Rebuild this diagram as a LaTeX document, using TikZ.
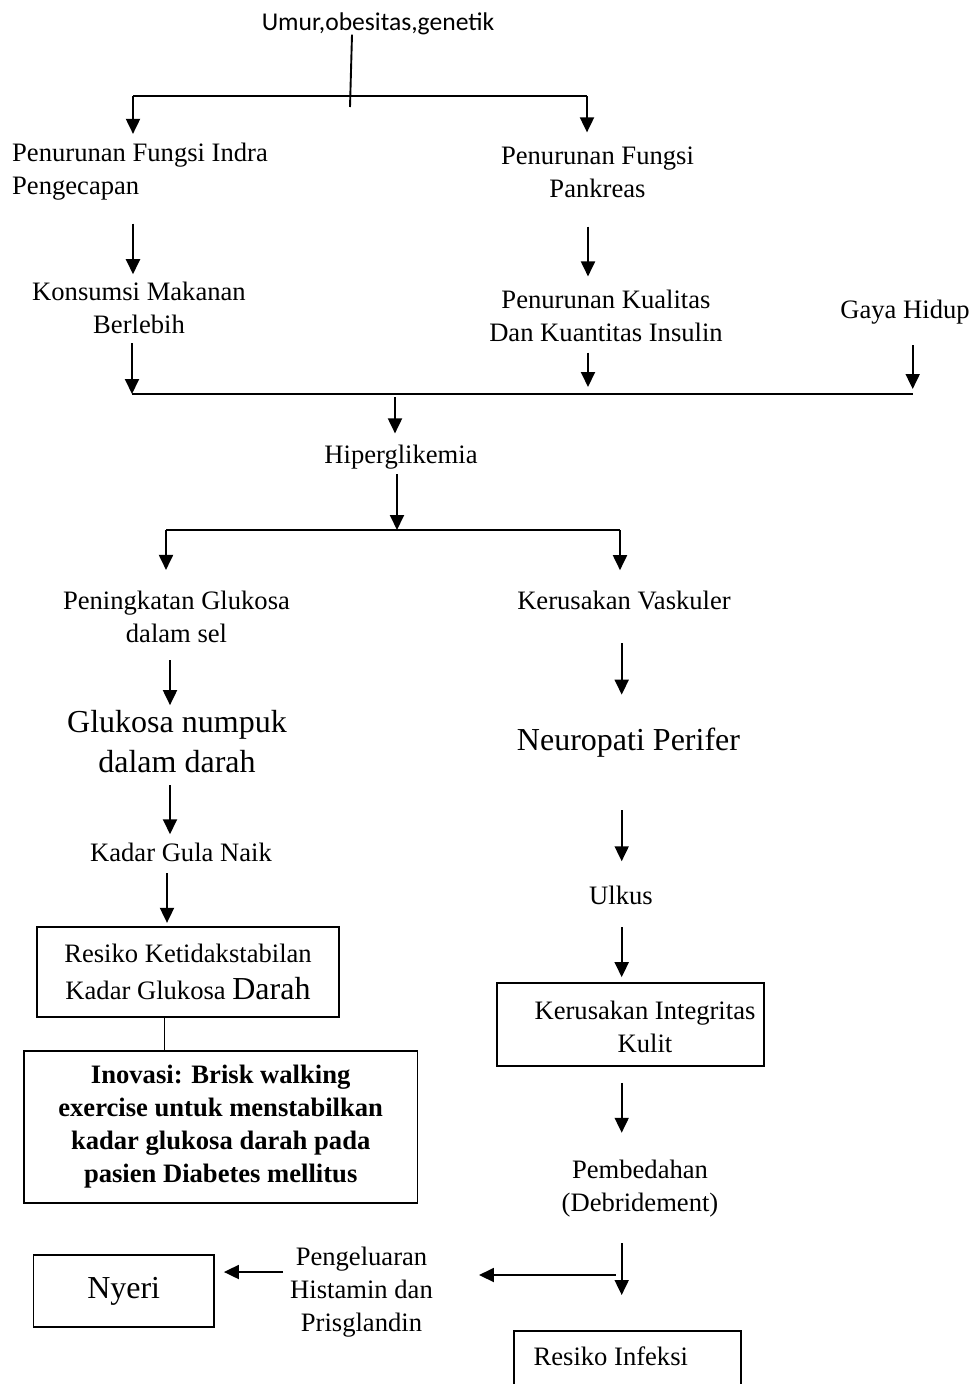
\documentclass[tikz,border=0pt]{standalone}
\usepackage{fontspec}
\setmainfont{Liberation Serif}
\newfontfamily\umurfont{Carlito}
\usetikzlibrary{arrows.meta}

\begin{document}
\begin{tikzpicture}[
    x=1pt, y=-1pt,
    txt/.style={inner sep=0pt, align=center, font=\fontsize{26.6}{33}\selectfont},
    big/.style={inner sep=0pt, align=center, font=\fontsize{32}{40}\selectfont},
    box/.style={draw, line width=1.7pt, inner sep=0pt},
    ln/.style={line width=1.9pt},
    arr/.style={ln, -{Triangle[length=15pt,width=14pt]}},
  ]
  \useasboundingbox (0,0) rectangle (973,1384);

  \node[anchor=base, inner sep=0pt, font=\umurfont\fontsize{25.6}{30}\selectfont]
    (umur) at (378,30) {Umur,obesitas,genetik};

  \node[txt, anchor=west, align=left] (pfi) at (12,171.7) {Penurunan Fungsi Indra\\Pengecapan};
  \node[txt] (pfp) at (597.5,172) {Penurunan Fungsi\\Pankreas};
  \node[txt] (kmb) at (139,308.3) {Konsumsi Makanan\\Berlebih};
  \node[txt] (pkk) at (606,315.5) {Penurunan Kualitas\\Dan Kuantitas Insulin};
  \node[txt] (gaya) at (905,312.1) {Gaya Hidup};
  \node[txt] (hiper) at (401,456.7) {Hiperglikemia};
  \node[txt] (pgs) at (176.5,617) {Peningkatan Glukosa\\dalam sel};
  \node[txt] (kv) at (624,600.8) {Kerusakan Vaskuler};
  \node[big] (gnd) at (177,741.6) {Glukosa numpuk\\dalam darah};
  \node[big] (np) at (628.5,742.5) {Neuropati Perifer};
  \node[txt] (kgn) at (181,852.8) {Kadar Gula Naik};
  \node[txt] (ulkus) at (621,895.8) {Ulkus};
  \node[box, txt, minimum width=302.6pt, minimum height=90pt] (rkkg) at (188,971.7)
    {Resiko Ketidakstabilan\\[4.3pt]Kadar Glukosa {\fontsize{32}{40}\selectfont Darah}};
  \node[box, txt, font=\fontsize{26.6}{33}\selectfont\bfseries,
        minimum width=393.3pt, minimum height=152pt] (inov) at (220.7,1126.7)
    {Inovasi: Brisk walking\\exercise untuk menstabilkan\\kadar glukosa darah pada\\pasien Diabetes mellitus};
  \node[box, minimum width=267pt, minimum height=83pt] (kik) at (630.5,1024.5) {};
  \node[txt] (kikt) at (645,1026.7) {Kerusakan Integritas\\Kulit};
  \node[txt] (pemb) at (640,1188.5) {Pembedahan\\(Debridement)};
  \node[txt] (peng) at (361.5,1292.5) {Pengeluaran\\Histamin dan\\Prisglandin};
  \node[box, big, minimum width=180.7pt, minimum height=71.7pt] (nyeri) at (123.7,1291) {Nyeri};
  \node[box, anchor=north west, minimum width=226.7pt, minimum height=100pt] (rinf) at (513.3,1330) {};
  \node[txt] (rinft) at (610.8,1355.8) {Resiko Infeksi};

  \coordinate (tl) at (133,96);
  \coordinate (tr) at (587,96);
  \coordinate (tm) at (350,107);
  \coordinate (bl) at (132,394);
  \coordinate (bm) at (395,394);
  \coordinate (bp) at (588,394);
  \coordinate (br) at (912.7,394);
  \coordinate (hl) at (166,530);
  \coordinate (hm) at (397,530);
  \coordinate (hr) at (620,530);
  \coordinate (cl) at (170,0);
  \coordinate (ck) at (167,0);
  \coordinate (cs) at (164.5,0);
  \coordinate (cr) at (621.7,0);
  \coordinate (pj) at (621.7,1275);
  \coordinate (hy) at (0,1272);

  \draw[ln] (tl) -- (tr);
  \draw[ln] ([xshift=-26pt]umur.south) -- (tm);
  \draw[arr, shorten >=9pt] (tl) -- (pfi.north -| tl);
  \draw[arr, shorten >=14pt] (tr) -- (pfp.north -| tr);
  \draw[arr, shorten <=23pt, shorten >=8pt] (pfi.south -| tl) -- (kmb.north -| tl);
  \draw[arr, shorten <=29pt, shorten >=13pt] (pfp.south -| bp) -- (pkk.north -| bp);
  \draw[arr, shorten <=9pt] (kmb.south -| bl) -- (bl);
  \draw[arr, shorten <=11pt, shorten >=7pt] (pkk.south -| bp) -- (bp);
  \draw[arr, shorten <=21pt, shorten >=5pt] (gaya.south -| br) -- (br);
  \draw[ln] (bl) -- (br);

  \draw[arr, shorten <=3pt, shorten >=11pt] (bm) -- (hiper.north -| bm);
  \draw[arr, shorten <=5pt] (hiper.south -| hm) -- (hm);
  \draw[ln] (hl) -- (hr);
  \draw[arr, shorten >=21pt] (hl) -- (pgs.north -| hl);
  \draw[arr, shorten >=21pt] (hr) -- (kv.north -| hr);

  \draw[arr, shorten <=17pt, shorten >=5pt] (pgs.south -| cl) -- (gnd.north -| cl);
  \draw[arr, shorten <=12pt, shorten >=9pt] (gnd.south -| cl) -- (kgn.north -| cl);
  \draw[arr, shorten <=11pt, shorten >=3pt] (kgn.south -| ck) -- (rkkg.north -| ck);
  \draw[ln] (rkkg.south -| cs) -- (inov.north -| cs);

  \draw[arr, shorten <=33pt, shorten >=33pt] (kv.south -| cr) -- (np.north -| cr);
  \draw[arr, shorten <=53pt, shorten >=25pt] (np.south -| cr) -- (ulkus.north -| cr);
  \draw[arr, shorten <=22pt, shorten >=5pt] (ulkus.south -| cr) -- (kik.north -| cr);
  \draw[arr, shorten <=16pt, shorten >=27pt] (kik.south -| cr) -- (pemb.north -| cr);
  \draw[arr, shorten <=26pt, shorten >=35pt] (pemb.south -| cr) -- (rinf.north -| cr);
  \draw[arr, shorten <=6pt, shorten >=46pt] (pj) -- (peng.east |- pj);
  \draw[arr, shorten <=7pt, shorten >=9pt] (peng.west |- hy) -- (nyeri.east |- hy);
\end{tikzpicture}
\end{document}
